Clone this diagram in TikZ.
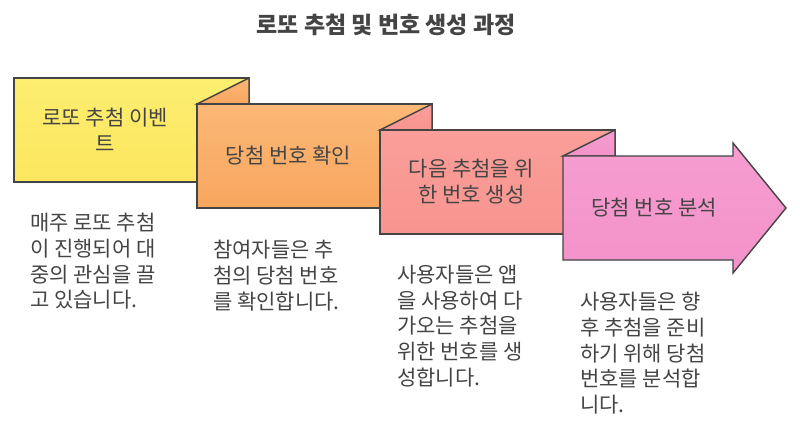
\documentclass[tikz,border=0pt]{standalone}
\usepackage{fontspec}
\setmainfont{Noto Sans CJK KR}
\usetikzlibrary{positioning}
\definecolor{edgegray}{RGB}{68,68,68}
\definecolor{textgray}{RGB}{68,68,68}
\definecolor{yellowtop}{RGB}{253,238,112}
\definecolor{yellowbot}{RGB}{252,230,94}
\definecolor{orangetop}{RGB}{251,184,119}
\definecolor{orangebot}{RGB}{248,166,94}
\definecolor{salmontop}{RGB}{250,158,153}
\definecolor{salmonbot}{RGB}{248,148,143}
\definecolor{pinktop}{RGB}{246,157,208}
\definecolor{pinkbot}{RGB}{243,146,202}

\tikzset{
  panel/.style={draw=edgegray, line width=1.4pt, line join=miter},
  steptext/.style={font=\fontsize{21}{26}\selectfont, text=textgray, align=center, inner sep=0pt},
  desctext/.style={font=\fontsize{21}{25.7}\selectfont, text=textgray, align=left, anchor=north west, inner sep=0pt}
}

\begin{document}
\begin{tikzpicture}[x=1pt, y=-1pt]

  \useasboundingbox (0,0) rectangle (800,431);

  % Title
  \node[font=\fontsize{23}{26}\selectfont\bfseries, text=textgray] (title) at (386,25) {로또 추첨 및 번호 생성 과정};

  % Step panels, back to front
  \path[panel, top color=yellowtop, bottom color=yellowbot] (14,78) rectangle (249,182);
  \path[panel, top color=orangetop, bottom color=orangebot] (197,104) -- (249,78) -- (249,104) -- cycle;
  \path[panel, top color=orangetop, bottom color=orangebot] (197,104) rectangle (432,208);
  \path[panel, top color=salmontop, bottom color=salmonbot] (380,130) -- (432,104) -- (432,130) -- cycle;
  \path[panel, top color=salmontop, bottom color=salmonbot] (380,130) rectangle (615,234);
  \path[panel, top color=pinktop, bottom color=pinkbot] (563,156) -- (615,130) -- (615,156) -- cycle;
  \path[panel, top color=pinktop, bottom color=pinkbot]
    (563,156) -- (733,156) -- (733,143) -- (786,208) -- (733,273) -- (733,260) -- (563,260) -- cycle;

  % Panel labels
  \node[steptext] (event)    at (105,130) {로또 추첨 이벤\\트};
  \node[steptext] (check)    at (288.5,156) {당첨 번호 확인};
  \node[steptext] (generate) at (471.5,182) {다음 추첨을 위\\한 번호 생성};
  \node[steptext] (analyse)  at (654,208) {당첨 번호 분석};

  % Descriptions below each panel
  \node[desctext] (eventdesc)    at (30,213)  {매주 로또 추첨\\이 진행되어 대\\중의 관심을 끌\\고 있습니다.};
  \node[desctext] (checkdesc)    at (213,240) {참여자들은 추\\첨의 당첨 번호\\를 확인합니다.};
  \node[desctext] (generatedesc) at (397,265) {사용자들은 앱\\을 사용하여 다\\가오는 추첨을\\위한 번호를 생\\성합니다.};
  \node[desctext] (analysedesc)  at (580,292) {사용자들은 향\\후 추첨을 준비\\하기 위해 당첨\\번호를 분석합\\니다.};

\end{tikzpicture}
\end{document}
